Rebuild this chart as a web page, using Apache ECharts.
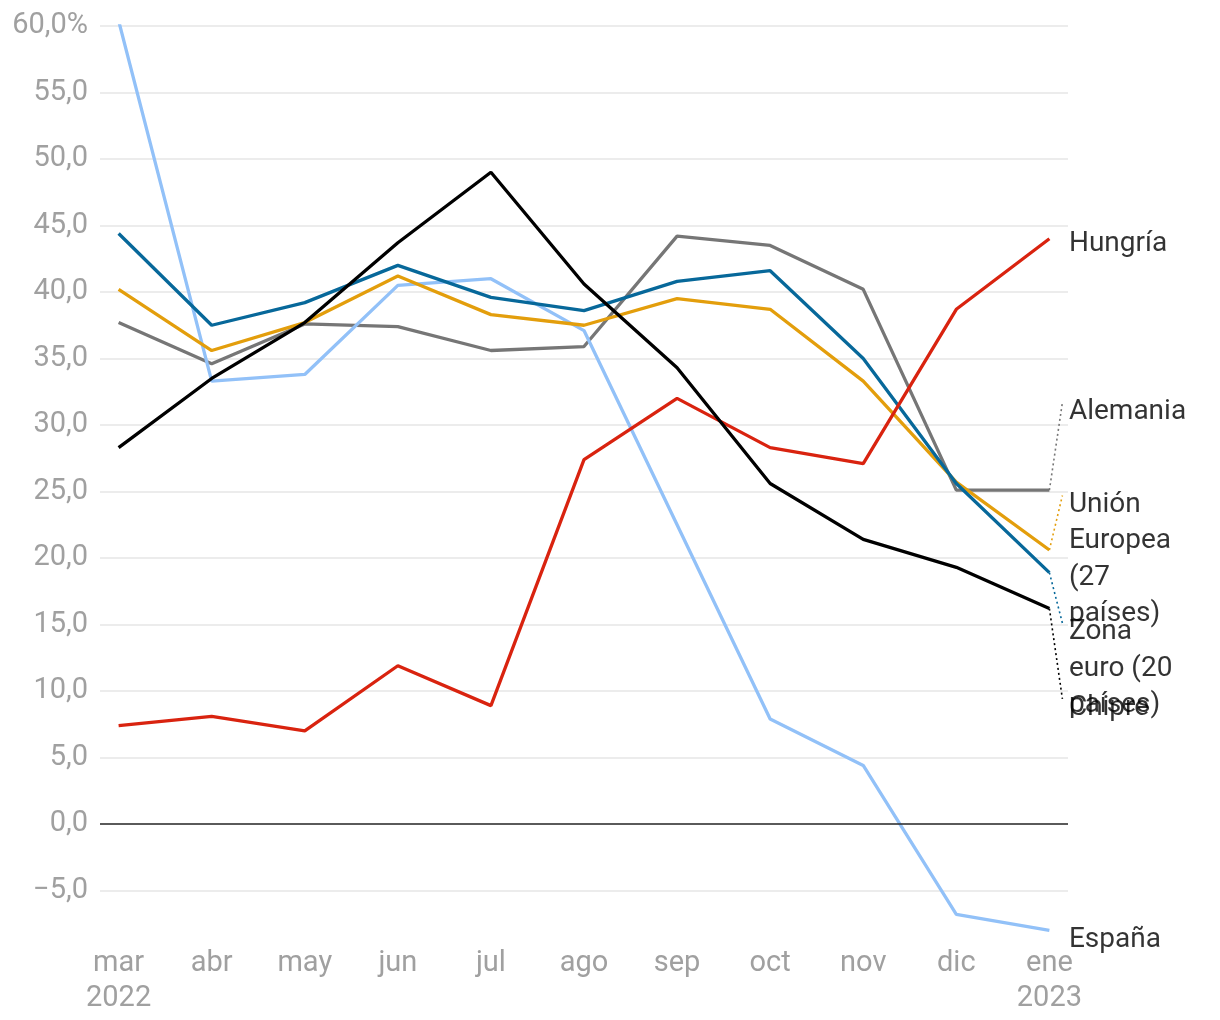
<!DOCTYPE html>
<html>
<head>
<meta charset="utf-8">
<script src="https://cdn.jsdelivr.net/npm/echarts@6/dist/echarts.min.js"></script>
<style>
html,body{margin:0;padding:0;background:#fff;}
#chart{width:1220px;height:1020px;}
</style>
</head>
<body>
<div id="chart"></div>
<script>
const months = ['mar','abr','may','jun','jul','ago','sep','oct','nov','dic','ene'];
const years  = ['2022','','','','','','','','','','2023'];
const yTicks = [-5,0,5,10,15,20,25,30,35,40,45,50,55,60];

const seriesNames = ['Alemania','España','Unión Europea (27 países)','Zona euro (20 países)','Hungría','Chipre'];
const labelTexts  = ['Alemania','España','Unión\nEuropea\n(27\npaíses)','Zona\neuro (20\npaíses)','Hungría','Chipre'];
const colors      = ['#767676','#92c1f8','#e39e0c','#07689a','#d9230f','#000000'];

const alemania = [37.7,34.6,37.6,37.4,35.6,35.9,44.2,43.5,40.2,25.1,25.1];
const espana   = [60.4,33.3,33.8,40.5,41.0,37.1,22.5,7.9,4.4,-6.8,-8.0];
const ue27     = [40.2,35.6,37.7,41.2,38.3,37.5,39.5,38.7,33.3,25.7,20.6];
const zonaEuro = [44.4,37.5,39.2,42.0,39.6,38.6,40.8,41.6,35.0,25.6,18.9];
const hungria  = [7.4,8.1,7.0,11.9,8.9,27.4,32.0,28.3,27.1,38.7,44.0];
const chipre   = [28.3,33.5,37.7,43.7,49.0,40.6,34.3,25.6,21.4,19.3,16.2];

const allValues = [alemania, espana, ue27, zonaEuro, hungria, chipre];
// label anchor values (where each end label sits on the value scale)
const labelAnchors = [31.7, -8.0, 24.7, 15.1, 44.3, 9.4];
const hasLeader    = [true, false, true, true, false, true];

const FONT = 'Roboto, "Noto Sans", sans-serif';

const series = [];
allValues.forEach((vals, k) => {
  series.push({
    name: seriesNames[k],
    type: 'line',
    data: vals.map((v, i) => [i, v]),
    symbol: 'none',
    lineStyle: { color: colors[k], width: 3.3 },
    z: 3 + k,
    silent: true,
    markLine: k === 0 ? {
      silent: true, symbol: 'none', label: { show: false },
      lineStyle: { color: '#2a2a2a', width: 1.5, type: 'solid' },
      data: [{ yAxis: 0 }]
    } : undefined
  });
  const last = vals[vals.length - 1];
  series.push({
    name: seriesNames[k] + ' guía',
    type: 'line',
    data: [[months.length - 1, last], [months.length - 1 + 0.14, labelAnchors[k]]],
    symbol: 'none',
    lineStyle: { color: colors[k], width: 1.6, type: [2, 3], opacity: hasLeader[k] ? 1 : 0 },
    z: 2,
    silent: true
  });
  series.push({
    name: seriesNames[k] + ' etiqueta',
    type: 'scatter',
    data: [[months.length - 1 + 0.14, labelAnchors[k]]],
    symbolSize: 1,
    itemStyle: { color: 'rgba(0,0,0,0)' },
    silent: true,
    z: 10,
    label: {
      show: true,
      position: 'right',
      distance: 6,
      formatter: labelTexts[k],
      color: '#000000',
      fontFamily: FONT,
      fontSize: 28,
      lineHeight: 36.5,
      align: 'left',
      verticalAlign: 'top',
      offset: [0, -9]
    }
  });
});

const chart = echarts.init(document.getElementById('chart'));
chart.setOption({
  animation: false,
  backgroundColor: '#fff',
  grid: { left: 100, right: 152, top: 26, bottom: 63, containLabel: false },
  xAxis: {
    type: 'value',
    min: -0.2,
    max: months.length - 1 + 0.2,
    axisLine: { show: false },
    axisTick: { show: false },
    splitLine: { show: false },
    axisLabel: {
      customValues: months.map((m, i) => i),
      formatter: v => {
        const i = Math.round(v);
        return years[i] ? months[i] + '\n' + years[i] : months[i];
      },
      color: '#a0a0a0',
      fontFamily: FONT,
      fontSize: 29,
      lineHeight: 35,
      margin: -11,
      verticalAlign: 'top'
    }
  },
  yAxis: {
    type: 'value',
    min: -10,
    max: 60,
    interval: 5,
    axisLine: { show: false },
    axisTick: { show: false },
    splitLine: { show: true, showMinLine: false, lineStyle: { color: '#e6e6e6', width: 1.5 } },
    axisLabel: {
      margin: 12,
      color: '#a0a0a0',
      fontFamily: FONT,
      fontSize: 29,
      padding: [4, 0, 0, 0],
      formatter: v => {
        if (yTicks.indexOf(v) < 0) return '';
        const s = Math.abs(v).toFixed(1).replace('.', ',');
        if (v === 60) return s + '%';
        return v < 0 ? '\u2212' + s : s;
      }
    }
  },
  series: series
});
</script>
</body>
</html>
